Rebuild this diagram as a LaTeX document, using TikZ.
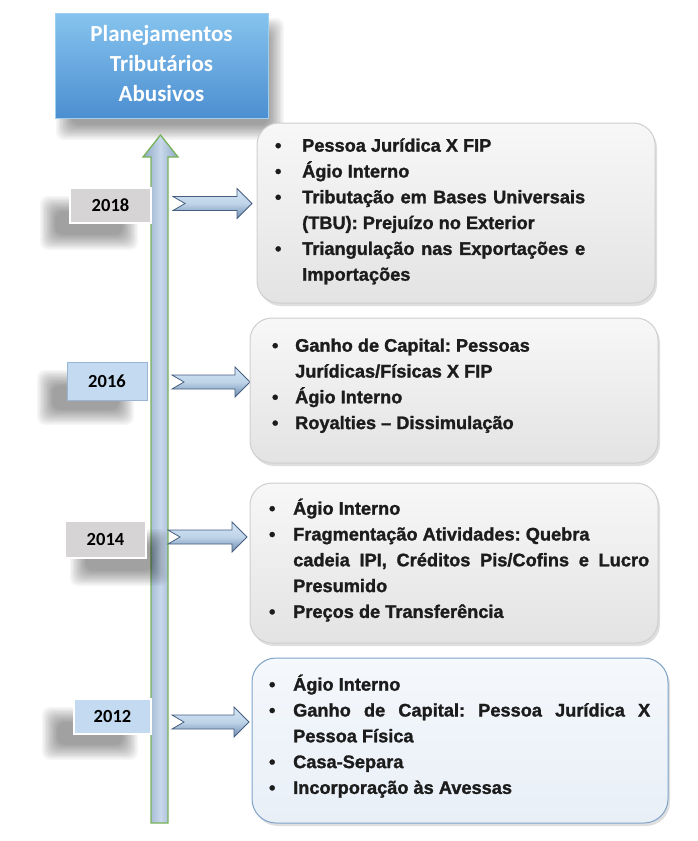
\documentclass[tikz,border=0pt]{standalone}
\usepackage{fontspec}
\setmainfont{Liberation Sans}
\newfontfamily\heavy{Liberation Sans Bold}[FakeBold=1.4]
\newfontfamily\calib{Carlito}
\usetikzlibrary{shadows}
\definecolor{titletop}{HTML}{86C3EE}
\definecolor{titlebot}{HTML}{4C8FD1}
\definecolor{yeargray}{HTML}{D6D4D4}
\definecolor{yearblue}{HTML}{C3DAF1}
\definecolor{shaftedge}{HTML}{8EA8C6}
\definecolor{shaftmid}{HTML}{C8D8EB}
\definecolor{shaftline}{HTML}{78B259}
\definecolor{harrtop}{HTML}{D4E6F6}
\definecolor{harrbot}{HTML}{6C8BB0}
\definecolor{harrline}{HTML}{465F80}
\definecolor{boxline}{HTML}{CFCFCF}
\definecolor{boxblue}{HTML}{7FA3C8}
\definecolor{blutop}{HTML}{F5F8FC}
\definecolor{blubot}{HTML}{E8EFF7}
\definecolor{txtcol}{HTML}{1C1C1C}
\newcommand\bulx[1]{\llap{\textbullet\hspace{#1pt}}}
\newcommand\blurshadow[4]{%
  \foreach \i in {0,...,11} {\fill[black, opacity=0.035, rounded corners=8pt]
    (#1+\i*1.4, #2+\i*1.4) rectangle (#3-\i*1.4, #4-\i*1.4);}}
\newcommand\harrow[3]{%
  \draw[harr] (#1,#3-7) -- (#2-15,#3-7) -- (#2-15,#3-15) -- (#2,#3)
    -- (#2-15,#3+15) -- (#2-15,#3+7) -- (#1,#3+7) -- (#1+12,#3) -- cycle;}
\begin{document}
\begin{tikzpicture}[x=1pt,y=-1pt,
  titlebox/.style={rectangle, draw=titletop!80!white, line width=1pt,
    top color=titletop, bottom color=titlebot, minimum width=213, minimum height=105,
    text=white, font=\calib\bfseries\fontsize{23}{30}\selectfont, align=center},
  yearbox/.style={rectangle, draw=white, line width=1.2pt, inner sep=0pt,
    font=\calib\bfseries\fontsize{18.5}{22}\selectfont, text=black},
  cbox/.style={rectangle, rounded corners=22pt, draw=boxline, line width=1pt,
    top color=white!97!black, bottom color=white!89!black,
    drop shadow={shadow xshift=2pt, shadow yshift=-3pt, opacity=0.25}},
  txt/.style={anchor=north west, inner sep=0pt, align=left, text=txtcol,
    font=\heavy\fontsize{18.2}{25.8}\selectfont\frenchspacing},
  varrow/.style={draw=shaftline, line width=1.3pt, left color=shaftedge,
    right color=shaftedge, middle color=shaftmid},
  harr/.style={draw=harrline, line width=0.8pt, top color=harrtop, bottom color=harrbot,
    middle color=harrtop!80!harrbot}
]
\useasboundingbox (0,0) rectangle (698,841);
\fill[white] (0,0) rectangle (698,841);

% title
\blurshadow{56}{18}{284}{140}
\node[titlebox] (title) at (161.5,65.5) {\strut Planejamentos\\\strut Tributários\\\strut Abusivos};

% vertical arrow
\draw[varrow] (151,823) -- (151,157) -- (143,157) -- (160.5,135) -- (178,157)
  -- (168,157) -- (168,823) -- cycle;

% year shadows
\blurshadow{40}{196}{138}{250}
\blurshadow{37}{370}{134}{425}
\blurshadow{70}{529}{168}{586}
\blurshadow{42}{707}{138}{760}

% year boxes
\node[yearbox, fill=yeargray, minimum width=81, minimum height=35] (y18) at (110.5,205.5) {2018};
\node[yearbox, fill=yearblue, draw=boxblue!80!white, line width=0.8pt, minimum width=80, minimum height=38] (y16) at (107,381) {2016};
\node[yearbox, fill=yeargray, minimum width=81, minimum height=37] (y14) at (105.5,539.5) {2014};
\node[yearbox, fill=yearblue, minimum width=77, minimum height=35] (y12) at (112.5,716.5) {2012};

% horizontal arrows
\harrow{173}{252}{203.5}
\harrow{172}{250}{382}
\harrow{168}{247}{537}
\harrow{172}{249}{722}

% content boxes
\node[cbox, minimum width=398, minimum height=180] (b18) at (456,213) {};
\node[cbox, minimum width=408, minimum height=145] (b16) at (454,390.5) {};
\node[cbox, minimum width=408, minimum height=160] (b14) at (454,563) {};
\node[cbox, draw=boxblue, top color=blutop, bottom color=blubot, rounded corners=24pt,
  minimum width=416, minimum height=165] (b12) at (460,740.5) {};

% texts
\node[txt] (t18) at (302,133.44) {%
\strut\bulx{20.8}Pessoa Jurídica X FIP\\
\strut\bulx{20.8}Ágio Interno\\
\strut\bulx{20.8}\makebox[283pt][s]{Tributação em Bases Universais}\\
\strut(TBU): Prejuízo no Exterior\\
\strut\bulx{20.8}\makebox[283pt][s]{Triangulação nas Exportações e}\\
\strut Importações};

\node[txt] (t16) at (295,333.44) {%
\strut\bulx{16.8}Ganho de Capital: Pessoas\\
\strut Jurídicas/Físicas X FIP\\
\strut\bulx{16.8}Ágio Interno\\
\strut\bulx{16.8}Royalties – Dissimulação};

\node[txt] (t14) at (293,496.44) {%
\strut\bulx{17.8}Ágio Interno\\
\strut\bulx{17.8}Fragmentação Atividades: Quebra\\
\strut\makebox[356pt][s]{cadeia IPI, Créditos Pis/Cofins e Lucro}\\
\strut Presumido\\
\strut\bulx{17.8}Preços de Transferência};

\node[txt] (t12) at (293,672.44) {%
\strut\bulx{17.8}Ágio Interno\\
\strut\bulx{17.8}\makebox[357pt][s]{Ganho de Capital: Pessoa Jurídica X}\\
\strut Pessoa Física\\
\strut\bulx{17.8}Casa-Separa\\
\strut\bulx{17.8}Incorporação às Avessas};
\end{tikzpicture}
\end{document}
